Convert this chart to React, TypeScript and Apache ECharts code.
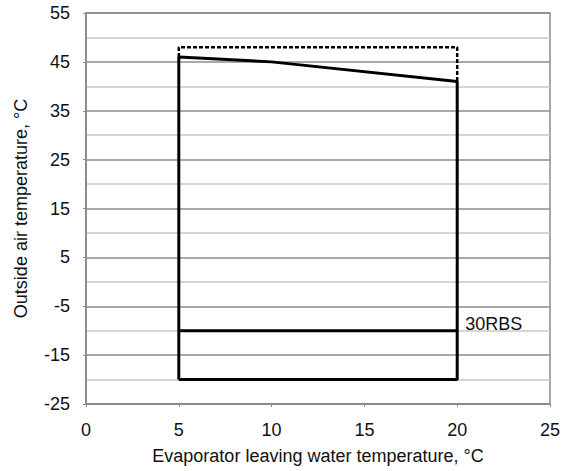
import React, { useEffect, useRef } from "react";
import * as echarts from "echarts";

const envelopeX = [5, 5, 10, 20, 20, 5];
const envelopeY = [-20, 46, 45, 41, -20, -20];
const dashedX = [5, 5, 20, 20];
const dashedY = [46, 48, 48, 41];
const limitX = [5, 20];
const limitY = [-10, -10];
const limitLabel = "30RBS";
const xTitle = "Evaporator leaving water temperature, °C";
const yTitle = "Outside air temperature, °C";

const zip = (xs: number[], ys: number[]) => xs.map((x, i) => [x, ys[i]]);

const FONT = "'Liberation Sans', Arial, Helvetica, sans-serif";

export default function App() {
  const ref = useRef<HTMLDivElement>(null);
  useEffect(() => {
    document.body.style.margin = "0";
    if (!ref.current) return;
    const chart = echarts.init(ref.current, undefined, { renderer: "svg" });
    chart.setOption({
      animation: false,
      textStyle: { fontFamily: FONT },
      grid: {
        left: 86,
        right: 21,
        top: 13,
        bottom: 67,
        show: true,
        borderColor: "#8c8c8c",
        borderWidth: 1.5,
      },
      xAxis: {
        type: "value",
        min: 0,
        max: 25,
        interval: 5,
        name: xTitle,
        nameLocation: "middle",
        nameGap: 43,
        nameTextStyle: { fontSize: 18, color: "#111", fontFamily: FONT },
        axisLine: { show: true, onZero: false, lineStyle: { color: "#8c8c8c", width: 2 } },
        axisTick: { show: true, length: 3, lineStyle: { color: "#8c8c8c" } },
        axisLabel: { fontSize: 18, color: "#111", margin: 17, fontFamily: FONT },
        splitLine: { show: false },
      },
      yAxis: {
        type: "value",
        min: -25,
        max: 55,
        interval: 10,
        name: yTitle,
        nameLocation: "middle",
        nameRotate: 90,
        nameGap: 56,
        nameTextStyle: { fontSize: 18, color: "#111", fontFamily: FONT },
        axisLine: { show: true, onZero: false, lineStyle: { color: "#8c8c8c", width: 2 } },
        axisTick: { show: true, length: 3, lineStyle: { color: "#8c8c8c" } },
        axisLabel: { fontSize: 18, color: "#111", margin: 16, fontFamily: FONT },
        splitLine: { show: true, lineStyle: { color: "#8c8c8c", width: 1.5 } },
        minorTick: { show: false, splitNumber: 2 },
        minorSplitLine: { show: true, lineStyle: { color: "#c8c8c8", width: 1.5 } },
      },
      series: [
        {
          type: "line",
          data: zip(dashedX, dashedY),
          symbol: "none",
          lineStyle: { color: "#000", width: 2.5, type: [4, 2] },
          z: 3,
        },
        {
          type: "line",
          data: zip(envelopeX, envelopeY),
          symbol: "none",
          lineStyle: { color: "#000", width: 3 },
          z: 4,
        },
        {
          type: "line",
          data: zip(limitX, limitY),
          symbol: "none",
          lineStyle: { color: "#000", width: 3 },
          z: 4,
          endLabel: {
            show: true,
            formatter: limitLabel,
            fontSize: 18,
            color: "#111",
            fontFamily: FONT,
            distance: 8,
            offset: [0, -7],
          },
        },
      ],
    });
    return () => chart.dispose();
  }, []);
  return <div ref={ref} style={{ width: 571, height: 471 }} />;
}
